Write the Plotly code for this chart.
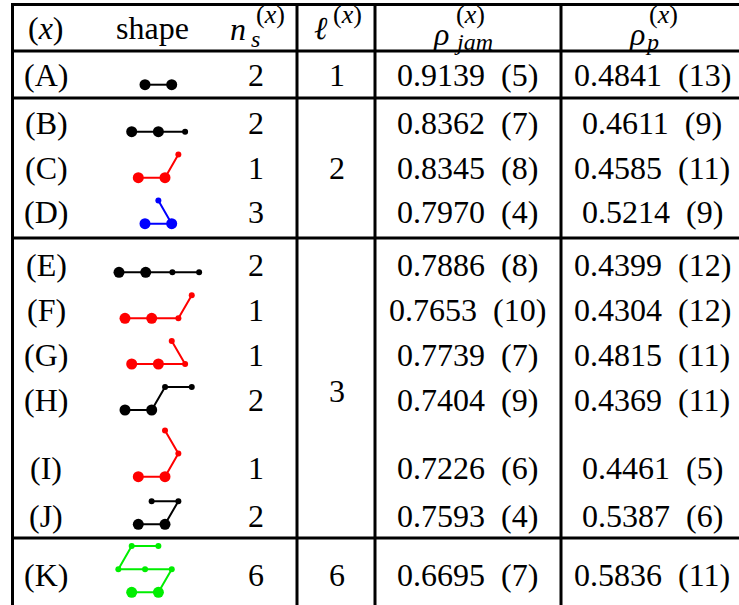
import math
import plotly.graph_objects as go

# ---------------- data ----------------
labels = ["A", "B", "C", "D", "E", "F", "G", "H", "I", "J", "K"]
n_s = [2, 2, 1, 3, 2, 1, 1, 2, 1, 2, 6]
ell_values = [1, 2, 3, 6]
ell_rows = [["A"], ["B", "C", "D"], ["E", "F", "G", "H", "I", "J"], ["K"]]
rho_jam = [0.9139, 0.8362, 0.8345, 0.7970, 0.7886, 0.7653, 0.7739, 0.7404, 0.7226, 0.7593, 0.6695]
rho_jam_err = [5, 7, 8, 4, 8, 10, 7, 9, 6, 4, 7]
rho_p = [0.4841, 0.4611, 0.4585, 0.5214, 0.4399, 0.4304, 0.4815, 0.4369, 0.4461, 0.5387, 0.5836]
rho_p_err = [13, 9, 11, 9, 12, 12, 11, 11, 5, 6, 11]
shape_colors = ["black", "black", "red", "blue", "black", "red", "red", "black", "red", "black", "#00ee00"]

# molecule nodes on a triangular lattice (a, b); first two nodes are the large beads
SHAPE_A = [(0, 0), (1, 0)]
SHAPE_B = [(0, 0), (1, 0), (2, 0)]
SHAPE_C = [(0, 0), (1, 0), (1, 1)]
SHAPE_D = [(0, 0), (1, 0), (0, 1)]
SHAPE_E = [(0, 0), (1, 0), (2, 0), (3, 0)]
SHAPE_F = [(0, 0), (1, 0), (2, 0), (2, 1)]
SHAPE_G = [(0, 0), (1, 0), (2, 0), (1, 1)]
SHAPE_H = [(0, 0), (1, 0), (1, 1), (2, 1)]
SHAPE_I = [(0, 0), (1, 0), (1, 1), (0, 2)]
SHAPE_J = [(0, 0), (1, 0), (1, 1), (0, 1)]
SHAPE_K = [(0, 0), (1, 0), (1, 1), (0, 1), (-1, 1), (-1, 2), (0, 2)]
shapes_list = [SHAPE_A, SHAPE_B, SHAPE_C, SHAPE_D, SHAPE_E, SHAPE_F,
               SHAPE_G, SHAPE_H, SHAPE_I, SHAPE_J, SHAPE_K]

# ---------------- layout ----------------
W, H = 739, 605
FONT = "Liberation Serif"
FS = 32
SUP = 26
row_y = [75, 123, 168, 212, 265, 310, 355, 400, 468, 516, 575]
shape_x0 = [145, 131.7, 138.3, 145, 119, 125, 131.7, 125, 138.3, 138.3, 131.7]
shape_y0 = [84.7, 131.7, 177.7, 223.7, 272.3, 318.3, 364, 410, 476.7, 524.3, 592.3]
UNIT = 26.7
col_label, col_ns, col_ell, col_jam, col_p = 46, 256, 337, 467, 652

fig = go.Figure()

# table rules
lw = 3
hlines = [4.5, 51, 98, 238, 538]
vlines = [12.5, 297, 375, 561]
for yy in hlines:
    fig.add_shape(type="line", x0=11, x1=W + 5, y0=yy, y1=yy, line=dict(color="black", width=lw))
for xx in vlines:
    fig.add_shape(type="line", x0=xx, x1=xx, y0=3, y1=H + 5, line=dict(color="black", width=lw))

# molecules
h = math.sqrt(3) / 2
for i, nodes in enumerate(shapes_list):
    xs = [shape_x0[i] + UNIT * (a + b / 2) for a, b in nodes]
    ys = [shape_y0[i] - UNIT * (b * h) for a, b in nodes]
    sizes = [11 if k < 2 else 6 for k in range(len(nodes))]
    fig.add_trace(go.Scatter(x=xs, y=ys, mode="lines+markers",
                             line=dict(color=shape_colors[i], width=2),
                             marker=dict(color=shape_colors[i], size=sizes, opacity=1,
                                         line=dict(width=0)),
                             opacity=1, hoverinfo="skip", showlegend=False))


def txt(x, y, s, size=FS, xanchor="center"):
    fig.add_annotation(x=x, y=y, text=s, showarrow=False, xanchor=xanchor, yanchor="middle",
                       font=dict(family=FONT, size=size, color="black"))


# header
txt(col_label, 28, "(<i>x</i>)")
txt(152, 28, "shape")
txt(238, 29, "<i>n</i>")
txt(270, 14, "(<i>x</i>)", SUP)
txt(255, 39, "<i>s</i>", SUP - 2)
txt(321, 28, "<i>ℓ</i>")
txt(347, 14, "(<i>x</i>)", SUP)
txt(441, 34, "<i>ρ</i>")
txt(470, 14, "(<i>x</i>)", SUP)
txt(473, 42, "<i>jam</i>", SUP - 2)
txt(637, 34, "<i>ρ</i>")
txt(663, 14, "(<i>x</i>)", SUP)
txt(652, 42, "<i>p</i>", SUP - 2)

# rows
for i, lab in enumerate(labels):
    y = row_y[i]
    txt(col_label, y, f"({lab})")
    txt(col_ns, y, str(n_s[i]))
    txt(col_jam, y, f"{rho_jam[i]:.4f}\u2002({rho_jam_err[i]})")
    txt(col_p, y, f"{rho_p[i]:.4f}\u2002({rho_p_err[i]})")

for val, rows in zip(ell_values, ell_rows):
    yc = (row_y[labels.index(rows[0])] + row_y[labels.index(rows[-1])]) / 2
    txt(col_ell, yc, str(val))

fig.update_xaxes(range=[0, W], visible=False, fixedrange=True)
fig.update_yaxes(range=[H, 0], visible=False, fixedrange=True)
fig.update_layout(width=W, height=H, margin=dict(l=0, r=0, t=0, b=0),
                  plot_bgcolor="white", paper_bgcolor="white")
fig.write_html("out.html")
